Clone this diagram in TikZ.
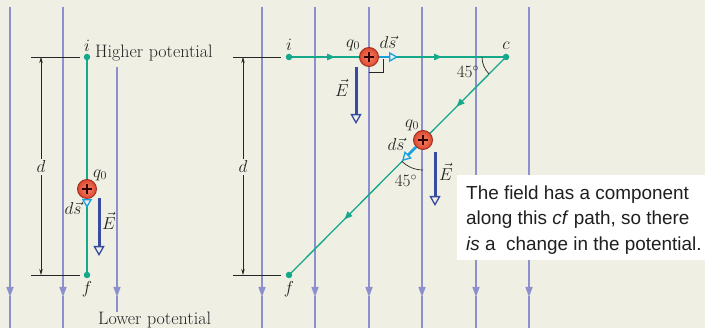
\documentclass[tikz,border=0pt]{standalone}
\usepackage{fontspec}
\newfontfamily\boxfont{Liberation Sans}
\usetikzlibrary{arrows.meta,decorations.markings}
\definecolor{bg}{RGB}{239,239,228}
\definecolor{fieldc}{RGB}{140,145,205}
\definecolor{pathc}{RGB}{22,168,138}
\definecolor{dsc}{RGB}{25,160,225}
\definecolor{ec}{RGB}{55,75,160}
\definecolor{qin}{RGB}{245,135,100}
\definecolor{qout}{RGB}{222,70,48}
\definecolor{qline}{RGB}{160,45,30}
\definecolor{txt}{RGB}{35,35,35}
\tikzset{
  fieldline/.style={draw=fieldc,line width=1.3pt},
  fieldtip/.style={fieldc,line width=1.3pt,-{Triangle[length=10pt,width=7pt]}},
  greenpath/.style={draw=pathc,line width=1.3pt},
  dot/.style={circle,fill=pathc,inner sep=0pt,minimum size=6.5pt},
  charge/.style={circle,draw=qline,line width=0.9pt,inner color=qin,outer color=qout,minimum size=19pt,inner sep=0pt,
    path picture={\draw[line width=1.6pt,draw=black!80!red]
      ([xshift=-4.6pt]path picture bounding box.center)--([xshift=4.6pt]path picture bounding box.center)
      ([yshift=-4.6pt]path picture bounding box.center)--([yshift=4.6pt]path picture bounding box.center);}},
  dsarrow/.style={draw=dsc,line width=2.8pt,-{Triangle[open,length=9pt,width=10pt,line width=1.3pt,fill=bg]}},
  earrow/.style={draw=ec,line width=3pt,-{Triangle[open,length=10pt,width=11pt,line width=1.3pt,fill=bg]}},
  tick/.style={draw=black!85,line width=0.8pt},
  dim/.style={draw=black!85,line width=0.7pt,{Stealth[length=6pt,width=3.5pt]}-{Stealth[length=6pt,width=3.5pt]}},
  lbl/.style={text=txt,inner sep=1pt,font=\fontsize{16.5}{19}\selectfont},
  dimlbl/.style={lbl,fill=bg,inner sep=2pt},
  serif/.style={text=txt,inner sep=0pt,font=\fontsize{18}{21}\selectfont},
  midarrows/.style 2 args={postaction={decorate,decoration={markings,
    mark=at position #1 with {\arrow{Triangle[length=8pt,width=6.5pt]}},
    mark=at position #2 with {\arrow{Triangle[length=8pt,width=6.5pt]}}}}},
  anglearc/.style={draw=black!85,line width=0.7pt},
  boxtext/.style={anchor=base west,inner sep=0pt,text=black!88,font=\boxfont\fontsize{18.9}{22}\selectfont}
}
\begin{document}
\begin{tikzpicture}[x=1pt,y=-1pt]
\useasboundingbox[fill=bg] (0,0) rectangle (705,328);
% field lines
\foreach \xx in {10,63,262,315,369,422,476,529}{
  \draw[fieldtip] (\xx,7) -- (\xx,297);
  \draw[fieldline] (\xx,296) -- (\xx,328);
}
\draw[fieldtip] (117,67) -- (117,297);
\draw[fieldline] (117,296) -- (117,312);
% ---------------- left panel ----------------
\coordinate (Li) at (87,57);
\coordinate (Lf) at (87,275);
\draw[greenpath] (Li) -- (Lf);
\node[dot] (Lidot) at (Li) {};
\node[dot] (Lfdot) at (Lf) {};
\node[lbl] (Lil) at (87,46) {$i$};
\node[lbl] (Lfl) at (87,289) {$f$};
\node[serif,anchor=base west] (hp) at (95,57.5) {Higher potential};
\node[serif,anchor=base west] (lp) at (98,325) {Lower potential};
\coordinate (Lt1a) at (31,57); \coordinate (Lt1b) at (80,57);
\coordinate (Lt2a) at (31,275); \coordinate (Lt2b) at (80,275);
\draw[tick] (Lt1a) -- (Lt1b);
\draw[tick] (Lt2a) -- (Lt2b);
\coordinate (Ld1) at (41,57); \coordinate (Ld2) at (41,275);
\draw[dim] (Ld1) -- (Ld2);
\node[dimlbl] (Ldl) at (41,167) {$d$};
\node[charge] (Lq) at (87,189) {};
\coordinate (Ldstip) at (87,208);
\draw[dsarrow] (Lq.south) -- (Ldstip);
\node[lbl] (Lql) at (100,175) {$q_0$};
\node[lbl] (Ldsl) at (73,208) {$d\vec{s}$};
\coordinate (LE1) at (99,198); \coordinate (LE2) at (99,256);
\draw[earrow] (LE1) -- (LE2);
\node[lbl] (LEl) at (109,221) {$\vec{E}$};
% ---------------- middle panel ----------------
\coordinate (Mi) at (289,57);
\coordinate (Mc) at (506,57);
\coordinate (Mf) at (289,275);
\draw[greenpath,midarrows={46pt}{153pt}] (Mi) -- (Mc);
\draw[greenpath,midarrows={70pt}{229pt}] (Mc) -- (Mf);
\node[dot] (Midot) at (Mi) {};
\node[dot] (Mcdot) at (Mc) {};
\node[dot] (Mfdot) at (Mf) {};
\node[lbl] (Mil) at (289,45) {$i$};
\node[lbl] (Mcl) at (506,46) {$c$};
\node[lbl] (Mfl) at (289,289) {$f$};
\coordinate (Mt1a) at (233,57); \coordinate (Mt1b) at (281,57);
\coordinate (Mt2a) at (233,275); \coordinate (Mt2b) at (281,275);
\draw[tick] (Mt1a) -- (Mt1b);
\draw[tick] (Mt2a) -- (Mt2b);
\coordinate (Md1) at (243,57); \coordinate (Md2) at (243,275);
\draw[dim] (Md1) -- (Md2);
\node[dimlbl] (Mdl) at (243,167) {$d$};
% angle at c
\draw[anglearc] (Mc) ++(180:24) arc[start angle=180,end angle=135,radius=24];
\node[lbl] (Ma1) at (468,72) {$45^\circ$};
% charge 1
\coordinate (ra1) at (369,72); \coordinate (ra2) at (383,72); \coordinate (ra3) at (383,59);
\draw[anglearc] (ra1) -- (ra2) -- (ra3);
\node[charge] (Mq1) at (369,57) {};
\coordinate (Mds1tip) at (398,57);
\draw[dsarrow] (Mq1.east) -- (Mds1tip);
\node[lbl] (Mq1l) at (353,45) {$q_0$};
\node[lbl] (Mds1l) at (388,42) {$d\vec{s}$};
\coordinate (ME1a) at (356,67); \coordinate (ME1b) at (356,124);
\draw[earrow] (ME1a) -- (ME1b);
\node[lbl] (ME1l) at (342,88) {$\vec{E}$};
% charge 2
\coordinate (Mq2c) at (423,140);
\draw[anglearc] (Mq2c) ++(135:30) arc[start angle=135,end angle=90,radius=30];
\node[lbl] (Ma2) at (406,181) {$45^\circ$};
\node[charge] (Mq2) at (Mq2c) {};
\coordinate (Mds2tip) at (402,161);
\draw[dsarrow] (Mq2.south west) -- (Mds2tip);
\node[lbl] (Mq2l) at (412,125) {$q_0$};
\node[lbl] (Mds2l) at (396,144) {$d\vec{s}$};
\coordinate (ME2a) at (435,152); \coordinate (ME2b) at (435,206);
\draw[earrow] (ME2a) -- (ME2b);
\node[lbl] (ME2l) at (446,172) {$\vec{E}$};
% ---------------- text box ----------------
\fill[white] (457,175) rectangle (705,260);
\node[boxtext] (t1) at (466,200) {The field has a component};
\node[boxtext] (t2) at (466,225) {along this \textit{cf} path, so there};
\node[boxtext] (t3) at (466,250.5) {\textit{is} a\ \ change in the potential.};
\end{tikzpicture}
\end{document}
